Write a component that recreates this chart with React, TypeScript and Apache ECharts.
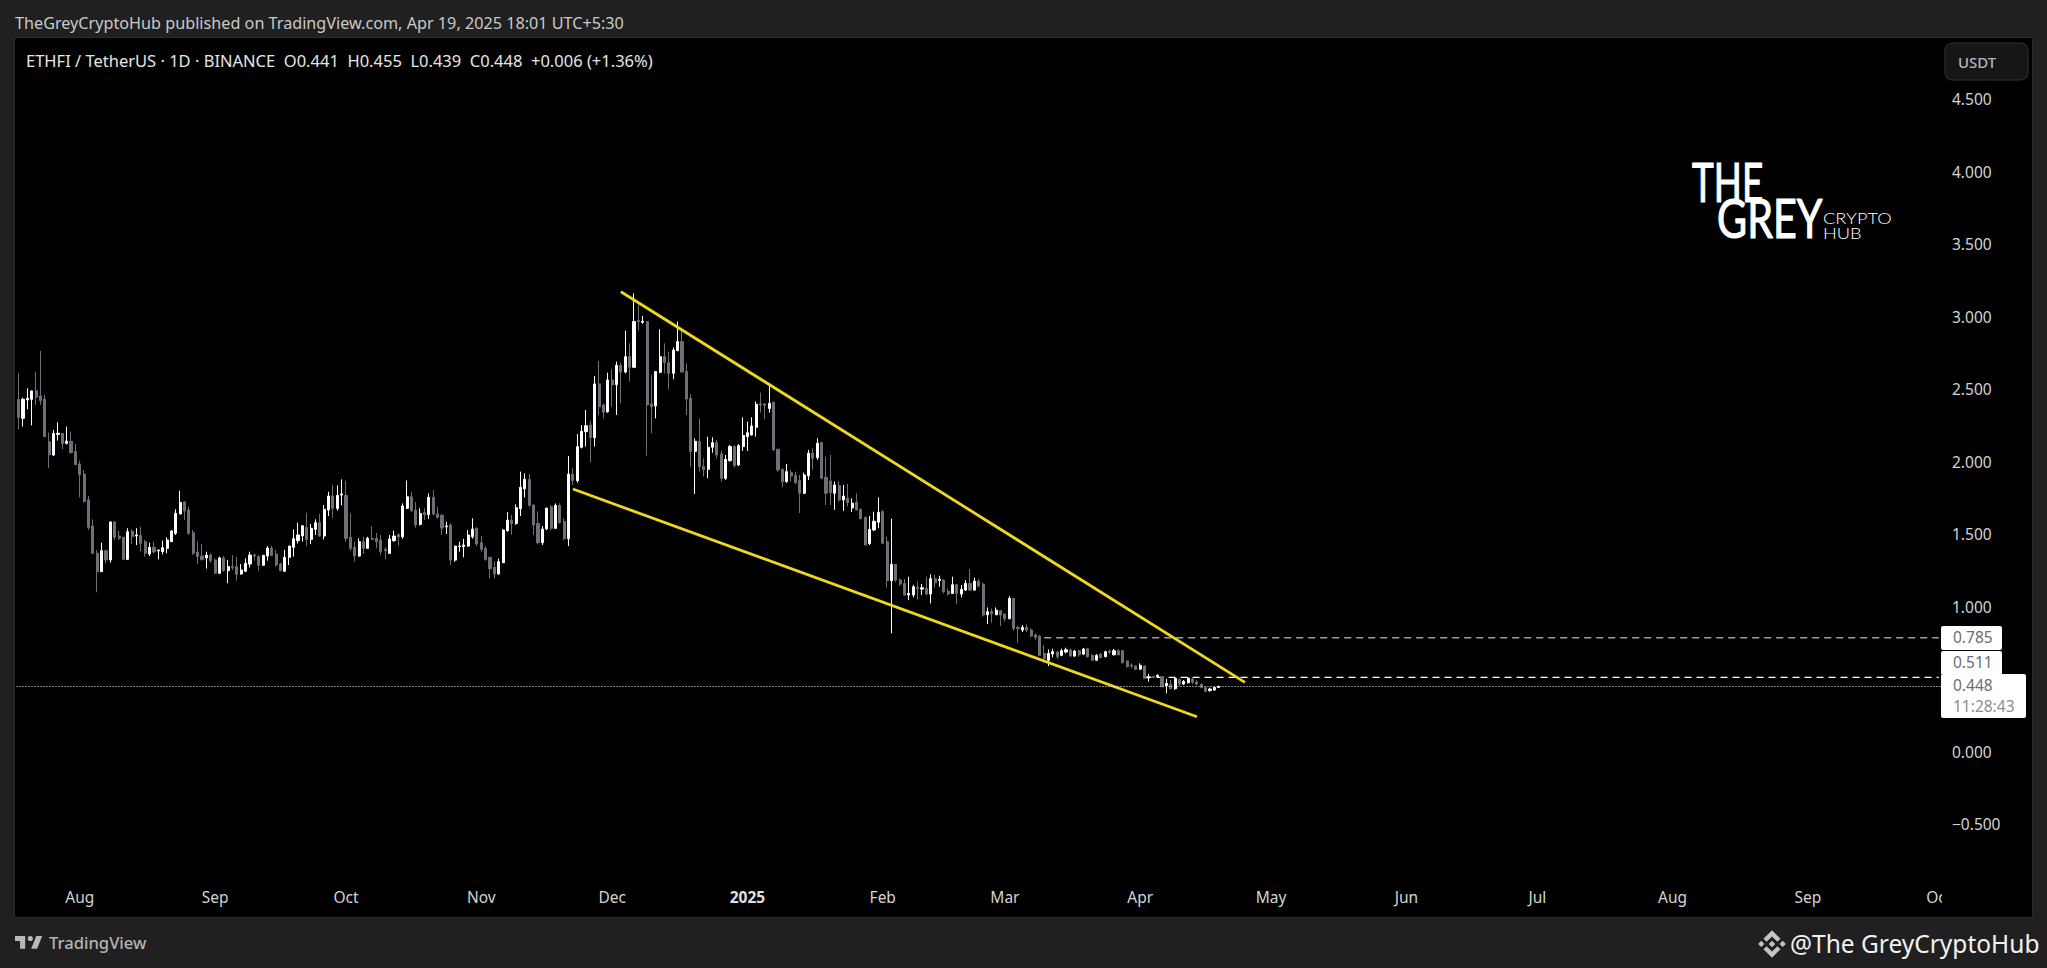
import React, { useEffect, useRef } from "react";
import * as echarts from "echarts";

// each row: open, close, high, low
const candles2024A = [
[2.429,2.305,2.608,2.222],[2.298,2.429,2.44,2.24],[2.424,2.436,2.505,2.36],[2.429,2.486,2.49,2.25],[2.488,2.443,2.62,2.39],
[2.452,2.42,2.762,2.39],[2.43,2.171,2.459,2.171],[2.137,2.047,2.199,1.955],[2.045,2.194,2.217,2.038],[2.187,2.195,2.27,2.144],
[2.194,2.125,2.194,2.086],[2.125,2.141,2.24,2.118],[2.139,2.061,2.206,2.056],[2.07,1.978,2.121,1.974],[1.983,1.909,2.006,1.753],
[1.914,1.725,1.941,1.716],[1.735,1.546,1.762,1.528],[1.555,1.367,1.601,1.362],[1.367,1.24,1.39,1.098],[1.24,1.385,1.44,1.24],
[1.385,1.321,1.39,1.298],[1.321,1.583,1.586,1.302],[1.583,1.477,1.586,1.459],[1.486,1.47,1.523,1.459],[1.477,1.325,1.482,1.325],
[1.325,1.516,1.54,1.321],[1.518,1.482,1.532,1.431],[1.486,1.493,1.54,1.424],[1.49,1.436,1.55,1.378],[1.447,1.367,1.459,1.344],
[1.362,1.408,1.44,1.348],[1.408,1.376,1.447,1.367],[1.383,1.39,1.39,1.325],[1.378,1.406,1.454,1.36],[1.401,1.459,1.477,1.367],
[1.447,1.521,1.528,1.447],[1.505,1.643,1.67,1.493],[1.638,1.718,1.799,1.638],[1.721,1.659,1.725,1.597],[1.666,1.505,1.689,1.493],
[1.509,1.367,1.528,1.355],[1.376,1.344,1.447,1.293],[1.348,1.325,1.431,1.316],[1.335,1.355,1.378,1.261],[1.355,1.316,1.367,1.302],
[1.321,1.229,1.332,1.224],[1.229,1.335,1.344,1.224],[1.335,1.247,1.348,1.24],[1.247,1.275,1.321,1.16],[1.275,1.268,1.355,1.252],
[1.275,1.222,1.344,1.178],[1.224,1.252,1.293,1.22],[1.243,1.298,1.332,1.238],[1.293,1.355,1.378,1.27],[1.355,1.348,1.367,1.316],
[1.344,1.284,1.355,1.247],[1.284,1.353,1.355,1.284],[1.348,1.403,1.417,1.316],[1.401,1.353,1.417,1.348],[1.362,1.286,1.39,1.275],
[1.293,1.247,1.302,1.243],[1.243,1.339,1.39,1.24],[1.339,1.417,1.417,1.286],[1.408,1.468,1.532,1.344],
];
const candles2024B = [
[1.454,1.493,1.578,1.435],[1.486,1.557,1.562,1.447],[1.546,1.463,1.647,1.417],[1.463,1.539,1.569,1.431],[1.532,1.578,1.601,1.493],
[1.578,1.486,1.638,1.481],[1.486,1.67,1.7,1.463],[1.665,1.762,1.792,1.624],[1.762,1.677,1.838,1.612],[1.677,1.766,1.835,1.661],
[1.769,1.776,1.877,1.697],[1.766,1.47,1.868,1.447],[1.477,1.401,1.642,1.385],[1.408,1.348,1.447,1.309],[1.348,1.447,1.47,1.343],
[1.447,1.401,1.481,1.362],[1.401,1.47,1.481,1.399],[1.47,1.463,1.555,1.458],[1.47,1.447,1.509,1.401],[1.458,1.378,1.493,1.355],
[1.394,1.385,1.408,1.325],[1.366,1.465,1.493,1.362],[1.454,1.486,1.523,1.447],[1.495,1.481,1.504,1.417],[1.481,1.693,1.711,1.467],
[1.677,1.757,1.868,1.672],[1.757,1.661,1.792,1.651],[1.665,1.562,1.72,1.543],[1.566,1.642,1.677,1.559],[1.647,1.633,1.677,1.596],
[1.633,1.753,1.78,1.603],[1.753,1.638,1.803,1.628],[1.638,1.615,1.688,1.605],[1.628,1.541,1.638,1.495],[1.55,1.555,1.585,1.5],
[1.562,1.32,1.573,1.286],[1.32,1.417,1.417,1.309],[1.413,1.417,1.447,1.378],[1.413,1.424,1.467,1.339],[1.417,1.493,1.527,1.412],
[1.481,1.534,1.608,1.468],[1.539,1.431,1.546,1.417],[1.44,1.394,1.486,1.378],[1.401,1.325,1.417,1.316],[1.339,1.261,1.343,1.196],
[1.27,1.224,1.309,1.194],[1.224,1.309,1.33,1.219],[1.302,1.527,1.532,1.3],[1.523,1.596,1.651,1.516],[1.596,1.573,1.631,1.495],
[1.573,1.681,1.704,1.564],[1.674,1.822,1.93,1.624],[1.812,1.877,1.918,1.752],[1.877,1.697,1.913,1.688],[1.697,1.562,1.707,1.495],
[1.573,1.44,1.656,1.431],[1.44,1.534,1.555,1.424],[1.534,1.679,1.679,1.527],[1.688,1.539,1.697,1.527],[1.539,1.697,1.711,1.534],
[1.697,1.578,1.711,1.573],[1.587,1.467,1.608,1.458],[1.467,1.913,2.038,1.417],
];
const candlesPeak = [
[1.912,1.868,1.953,1.838],[1.868,2.102,2.19,1.854],[2.098,2.208,2.252,2.09],[2.206,2.247,2.355,2.103],[2.252,2.165,2.28,1.994],
[2.165,2.535,2.59,2.103],[2.535,2.378,2.693,2.32],[2.39,2.339,2.4,2.298],[2.342,2.562,2.613,2.337],[2.562,2.528,2.636,2.378],
[2.53,2.663,2.689,2.321],[2.663,2.617,2.682,2.401],[2.617,2.723,2.903,2.608],[2.723,2.65,2.815,2.551],[2.65,2.965,3.16,2.645],
[2.972,2.963,3.08,2.903],[2.96,2.967,3.004,2.95],[2.965,2.39,2.968,2.04],[2.397,2.378,2.597,2.194],[2.383,2.62,2.62,2.298],
[2.615,2.723,2.912,2.608],[2.723,2.682,2.815,2.608],[2.682,2.608,2.758,2.498],[2.608,2.769,2.787,2.567],[2.765,2.827,2.965,2.76],
[2.827,2.617,2.912,2.613],[2.62,2.431,2.677,2.321],[2.436,2.07,2.466,1.965],[2.07,2.139,2.16,1.776],[2.139,1.965,2.296,1.93],
[1.965,1.942,2.022,1.896],[1.946,2.098,2.171,1.884],[2.098,2.13,2.167,2.06],[2.13,2.045,2.149,2.022],[2.052,1.884,2.075,1.861],
[1.884,2.015,2.045,1.873],[2.006,2.103,2.114,1.999],[2.103,1.972,2.112,1.96],[1.976,2.109,2.121,1.969],[2.103,2.179,2.305,2.073],
[2.172,2.199,2.275,2.073],[2.183,2.245,2.305,2.18],[2.236,2.394,2.413,2.172],[2.397,2.39,2.475,2.337],[2.397,2.388,2.401,2.291],
[2.366,2.401,2.521,2.337],[2.408,2.08,2.413,2.075],[2.084,1.942,2.089,1.93],[1.946,1.861,1.951,1.822],[1.861,1.93,1.983,1.854],
[1.923,1.9,1.942,1.861],[1.905,1.854,1.93,1.845],[1.868,1.781,1.907,1.645],[1.781,1.907,1.923,1.776],[1.902,2.057,2.08,1.873],
[2.057,2.022,2.091,1.942],[2.027,2.126,2.16,2.011],[2.13,1.884,2.135,1.877],
];
const candlesFall = [
[1.891,1.781,2.034,1.7],[1.866,1.785,2.045,1.7],[1.781,1.838,1.861,1.666],[1.834,1.735,1.866,1.723],[1.735,1.762,1.838,1.659],
[1.746,1.716,1.845,1.689],[1.68,1.712,1.746,1.652],[1.719,1.666,1.781,1.661],[1.67,1.606,1.677,1.6],[1.615,1.424,1.62,1.42],
[1.434,1.532,1.624,1.424],[1.528,1.588,1.654,1.52],[1.581,1.65,1.753,1.54],[1.654,1.436,1.666,1.429],[1.447,1.178,1.482,1.132],
[1.178,1.291,1.606,0.815],[1.29,1.182,1.293,1.17],[1.182,1.155,1.194,1.141],[1.159,1.079,1.189,1.072],[1.079,1.09,1.205,1.044],
[1.079,1.136,1.148,1.063],[1.132,1.123,1.171,1.049],[1.12,1.129,1.155,1.079],[1.125,1.086,1.205,1.079],[1.086,1.192,1.222,1.021],
[1.192,1.164,1.217,1.132],[1.18,1.187,1.212,1.136],[1.182,1.102,1.187,1.09],[1.106,1.086,1.125,1.074],[1.09,1.15,1.205,1.086],
[1.15,1.09,1.155,1.017],[1.086,1.118,1.148,1.063],[1.113,1.159,1.182,1.109],[1.159,1.113,1.258,1.109],[1.113,1.175,1.198,1.109],
[1.175,1.141,1.187,1.132],[1.155,0.941,1.164,0.93],[0.943,0.964,0.994,0.879],[0.964,0.952,0.987,0.888],[0.943,0.975,0.994,0.941],
[0.971,0.941,0.975,0.865],[0.948,0.916,0.952,0.895],[0.916,1.056,1.072,0.911],[1.056,0.849,1.06,0.833],[0.856,0.847,0.865,0.75],
[0.838,0.856,0.872,0.824],[0.856,0.838,0.877,0.824],[0.838,0.796,0.849,0.787],[0.805,0.787,0.814,0.768],[0.796,0.663,0.803,0.658],
];
const candlesBase = [
[0.676,0.642,0.734,0.614],[0.63,0.676,0.704,0.589],[0.672,0.688,0.709,0.649],[0.686,0.654,0.695,0.64],[0.663,0.695,0.709,0.658],
[0.686,0.702,0.716,0.677],[0.7,0.658,0.711,0.654],[0.658,0.693,0.7,0.654],[0.695,0.667,0.7,0.654],[0.672,0.707,0.713,0.665],
[0.709,0.654,0.716,0.647],[0.663,0.63,0.672,0.626],[0.63,0.663,0.672,0.626],[0.672,0.649,0.677,0.64],[0.654,0.688,0.695,0.649],
[0.693,0.684,0.704,0.672],[0.667,0.695,0.707,0.663],[0.695,0.667,0.704,0.663],[0.695,0.612,0.7,0.608],[0.624,0.585,0.628,0.578],
[0.596,0.589,0.608,0.573],[0.589,0.566,0.594,0.562],[0.568,0.594,0.608,0.564],[0.589,0.504,0.594,0.5],[0.507,0.516,0.534,0.481],
[0.518,0.511,0.52,0.505],[0.516,0.525,0.532,0.511],[0.516,0.447,0.52,0.442],[0.454,0.47,0.5,0.401],[0.463,0.433,0.493,0.428],
[0.433,0.504,0.511,0.424],[0.497,0.465,0.504,0.451],[0.465,0.484,0.493,0.458],[0.474,0.506,0.511,0.47],[0.5,0.479,0.511,0.465],
[0.479,0.465,0.493,0.456],[0.463,0.442,0.47,0.435],[0.442,0.415,0.447,0.41],[0.42,0.431,0.44,0.413],[0.424,0.442,0.447,0.419],
[0.441,0.448,0.455,0.439],
];

const firstDay = "2024-07-18";
const dayCount = 441;
const monthTicks: Record<string, string> = {
  "2024-08-01": "Aug", "2024-09-01": "Sep", "2024-10-01": "Oct", "2024-11-01": "Nov", "2024-12-01": "Dec",
  "2025-01-01": "{y|2025}", "2025-02-01": "Feb", "2025-03-01": "Mar", "2025-04-01": "Apr", "2025-05-01": "May",
  "2025-06-01": "Jun", "2025-07-01": "Jul", "2025-08-01": "Aug", "2025-09-01": "Sep", "2025-10-01": "Oct",
};
const hiddenPriceTicks = [0.5];

const upperTrend = [[138, 3.171], [281, 0.477]];
const lowerTrend = [[127, 1.81], [270, 0.24]];
const level785 = 0.785;
const level785Start = 235;
const level511 = 0.511;
const level511Start = 258;
const lastPrice = 0.448;

const FONT = "'Noto Sans', sans-serif";

const categories: string[] = [];
{
  const start = Date.parse(firstDay + "T00:00:00Z");
  for (let i = 0; i < dayCount; i++) {
    categories.push(new Date(start + i * 86400000).toISOString().slice(0, 10));
  }
}
const allCandles = [...candles2024A, ...candles2024B, ...candlesPeak, ...candlesFall, ...candlesBase];

echarts.graphic.registerShape(
  "tvLogo",
  echarts.graphic.extendPath(
    "M14 6H2v6h6v9h6V6zm14 15h-7l6-15h7l-6 15zm-8-9a3 3 0 1 0 0-6 3 3 0 0 0 0 6z",
    {},
  ),
);
echarts.graphic.registerShape(
  "bnbLogo",
  echarts.graphic.extendPath(
    "M38.73 53.2 63 28.93l24.28 24.28 14.12-14.12L63 .68 24.61 39.07zM.67 63l14.12-14.12L28.91 63 14.79 77.12zm38.06 9.8L63 97.08l24.28-24.28 14.13 14.1L63 125.32 24.6 86.92zM97.08 63l14.13-14.12L125.33 63l-14.12 14.12zM77.32 63 63 48.67 48.68 63 63 77.33z",
    {},
  ),
);

function label(x: number, y: number, text: string, fill: string, fontSize: number, extra: any = {}) {
  return {
    type: "text",
    z: 100,
    x,
    y,
    style: { text, fill, fontSize, fontFamily: FONT, verticalAlign: "middle", align: "left", ...extra },
  };
}
function box(x: number, y: number, width: number, height: number, fill: string, z = 99, r = 2, stroke?: string) {
  return {
    type: "rect",
    z,
    shape: { x, y, width, height, r },
    style: { fill, stroke, lineWidth: stroke ? 1 : 0 },
  };
}
function logoWord(x: number, y: number, text: string, scaleX: number) {
  return {
    type: "text",
    z: 100,
    x,
    y,
    scaleX,
    style: { text, fill: "#ffffff", stroke: "#ffffff", lineWidth: 1.2, fontSize: 55, fontFamily: "Lato", verticalAlign: "middle" },
  };
}

export default function App() {
  const ref = useRef<HTMLDivElement>(null);
  useEffect(() => {
    document.body.style.margin = "0";
    const chart = echarts.init(ref.current!, undefined, { renderer: "svg" });
    const grey = "#6f7077";
    const trendStyle = { color: "#efd71c", width: 2.8 };
    chart.setOption({
      animation: false,
      backgroundColor: "#202020",
      grid: { left: 16.5, top: 99, width: 1924.5, height: 725, containLabel: false },
      xAxis: {
        type: "category",
        data: categories,
        boundaryGap: true,
        axisLine: { show: false },
        axisTick: { show: false },
        splitLine: { show: false },
        axisLabel: {
          interval: (_i: number, v: string) => v in monthTicks,
          formatter: (v: string) => monthTicks[v] ?? "",
          color: "#d4d4d4",
          fontFamily: FONT,
          fontSize: 15.5,
          margin: 65,
          rich: { y: { fontWeight: "bold", color: "#e0e0e0", fontFamily: FONT, fontSize: 15.5 } },
        },
      },
      yAxis: {
        type: "value",
        position: "right",
        min: -0.5,
        max: 4.5,
        interval: 0.5,
        axisLine: { show: false },
        axisTick: { show: false },
        splitLine: { show: false },
        axisLabel: {
          margin: 11,
          color: "#d4d4d4",
          fontFamily: FONT,
          fontSize: 15.5,
          padding: [0, 0, 3, 0],
          formatter: (v: number) =>
            hiddenPriceTicks.includes(v) ? "" : v < 0 ? "\u2212" + Math.abs(v).toFixed(3) : v.toFixed(3),
        },
      },
      series: [
        {
          type: "candlestick",
          barWidth: 2.6,
          data: allCandles.map(([o, c, h, l]) => [o, c, l, h]),
          itemStyle: { color: "#ffffff", color0: grey, borderColor: "#ffffff", borderColor0: grey, borderWidth: 1 },
          markLine: {
            silent: true,
            symbol: "none",
            label: { show: false },
            lineStyle: { color: "#ffffff", type: [1, 2], width: 1 },
            data: [{ yAxis: lastPrice }],
          },
          z: 3,
        },
        {
          type: "line",
          data: [[level785Start, level785], [dayCount - 1, level785]],
          showSymbol: false,
          lineStyle: { color: "#a0a0a0", width: 1.4, type: [7, 5] },
          z: 2,
        },
        {
          type: "line",
          data: [[level511Start, level511], [dayCount - 1, level511]],
          showSymbol: false,
          lineStyle: { color: "#ffffff", width: 1.4, type: [7, 5] },
          z: 2,
        },
        { type: "line", data: upperTrend, showSymbol: false, lineStyle: trendStyle, z: 4 },
        { type: "line", data: lowerTrend, showSymbol: false, lineStyle: trendStyle, z: 4 },
      ],
      graphic: {
        elements: [
          { type: "rect", z: -10, shape: { x: 14.5, y: 37.5, width: 2018, height: 880 }, style: { fill: "#000000", stroke: "#2b2b2b", lineWidth: 1 } },
          box(1942, 885, 60, 30, "#000000", 50, 0),
          label(15, 23, "TheGreyCryptoHub published on TradingView.com, Apr 19, 2025 18:01 UTC+5:30", "#c9c9c9", 16.2),
          label(26, 60, "ETHFI / TetherUS \u00b7 1D \u00b7 BINANCE  O0.441  H0.455  L0.439  C0.448  +0.006 (+1.36%)", "#e6e6e6", 16.5),
          box(1945, 43, 83, 37, "#161616", 99, 7, "#333333"),
          label(1958, 62, "USDT", "#b2b5be", 15, { fontWeight: 500 }),
          logoWord(1692, 181, "THE", 0.67),
          logoWord(1717, 217, "GREY", 0.75),
          { ...label(1823, 218, "CRYPTO", "#ffffff", 15, { fontFamily: "Lato", fontWeight: 300 }), scaleX: 1.22 },
          { ...label(1823, 233, "HUB", "#ffffff", 15, { fontFamily: "Lato", fontWeight: 300 }), scaleX: 1.22 },
          box(1941, 626, 61, 24, "#ffffff"),
          box(1941, 651, 61, 24, "#ffffff"),
          box(1941, 674, 85, 44, "#ffffff"),
          label(1953, 637, "0.785", "#6a6d78", 15.5),
          label(1953, 662, "0.511", "#6a6d78", 15.5),
          label(1953, 685, "0.448", "#6a6d78", 15.5),
          label(1953, 706, "11:28:43", "#8a8d96", 15.5),
          { type: "tvLogo", z: 100, x: 13.3, y: 930.9, scaleX: 0.85, scaleY: 0.85, style: { fill: "#b8b8b8" } },
          label(49, 942, "TradingView", "#b4b4b4", 16.6, { fontWeight: 500 }),
          { type: "bnbLogo", z: 100, x: 1758, y: 930, scaleX: 0.222, scaleY: 0.222, style: { fill: "#c4c4c4" } },
          label(1790, 943, "@The GreyCryptoHub", "#f2f2f2", 24.5),
        ],
      },
    });
    return () => chart.dispose();
  }, []);
  return <div ref={ref} style={{ position: "fixed", left: 0, top: 0, width: 2047, height: 968 }} />;
}
